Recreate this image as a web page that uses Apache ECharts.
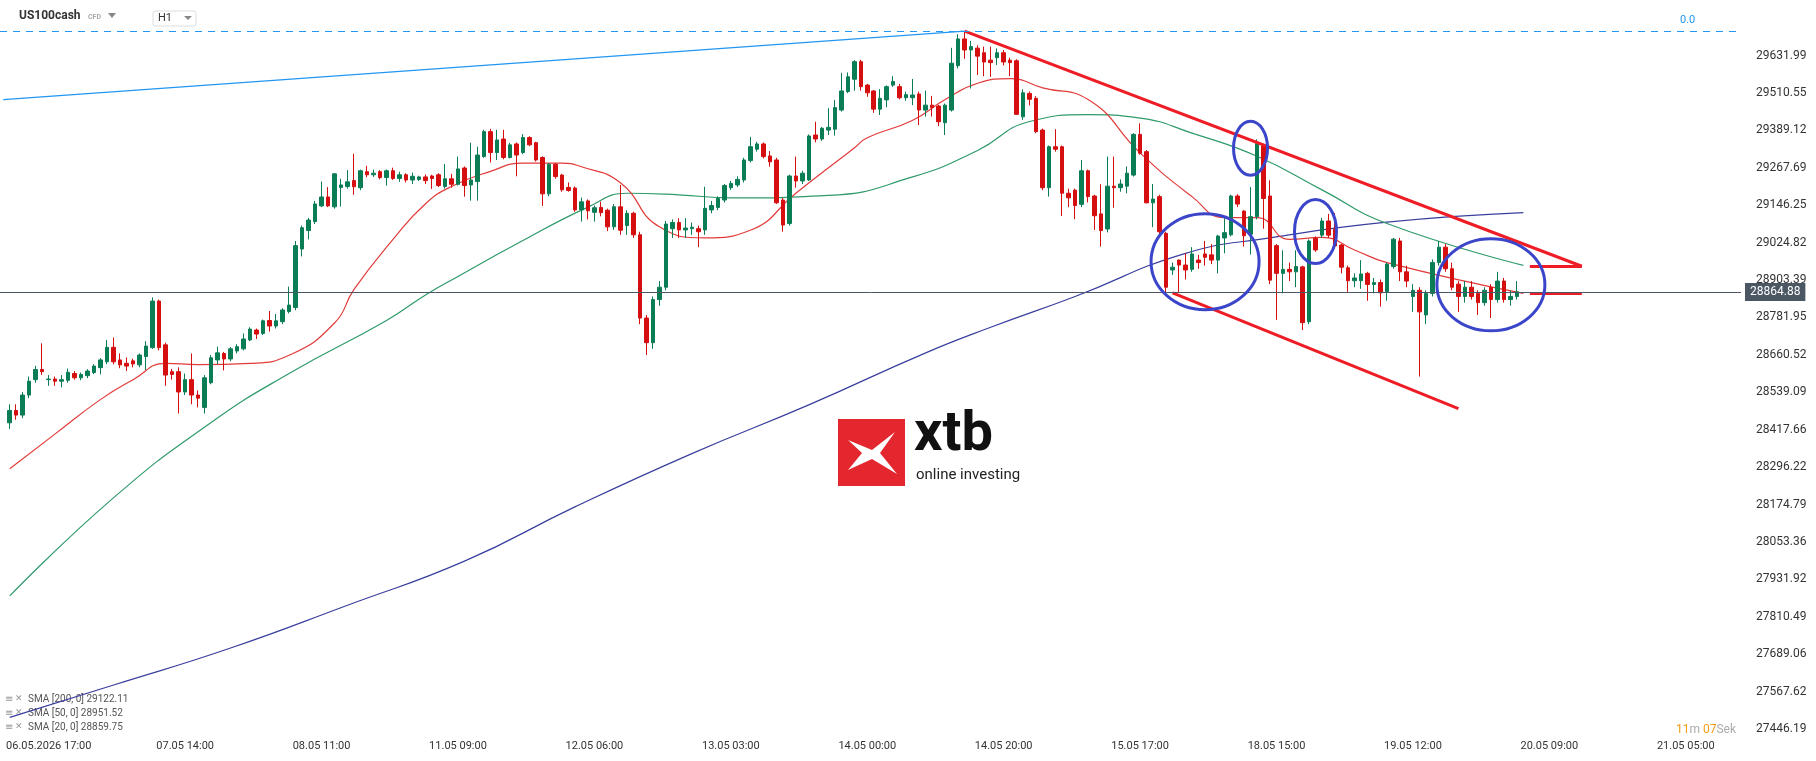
<!DOCTYPE html>
<html><head><meta charset="utf-8">
<script src="https://cdn.jsdelivr.net/npm/echarts@6/dist/echarts.min.js"></script>
<style>html,body{margin:0;padding:0;background:#fff}#c{width:1816px;height:761px}</style>
</head><body><div id="c"></div>
<script>
// ---- data ----
const candles = [
[28440,28480,28420,28500],[28480,28465,28450,28500],[28465,28530,28455,28540],[28530,28575,28520,28590],[28580,28613,28570,28625],
[28613,28606,28595,28698],[28580,28582,28560,28595],[28582,28575,28560,28590],[28575,28580,28555,28595],[28578,28604,28570,28616],
[28600,28586,28580,28608],[28586,28597,28578,28603],[28593,28608,28585,28614],[28603,28624,28598,28630],[28619,28644,28597,28650],
[28638,28685,28630,28709],[28685,28638,28630,28717],[28644,28628,28617,28665],[28633,28624,28608,28652],[28641,28631,28620,28648],
[28628,28660,28620,28665],[28655,28689,28611,28705],[28684,28835,28680,28847],[28835,28684,28675,28840],[28693,28595,28560,28700],
[28606,28597,28580,28615],[28606,28540,28470,28620],[28540,28580,28530,28600],[28580,28530,28500,28665],[28530,28520,28490,28545],
[28490,28586,28470,28595],[28570,28651,28565,28660],[28644,28667,28630,28687],[28665,28647,28610,28670],[28647,28680,28640,28686],
[28673,28687,28665,28695],[28680,28712,28675,28730],[28709,28744,28705,28750],[28741,28728,28712,28746],[28730,28771,28725,28775],
[28772,28754,28736,28803],[28754,28771,28746,28793],[28768,28806,28760,28812],[28801,28822,28795,28882],[28814,29015,28805,29030],
[29004,29073,28980,29080],[29064,29098,29035,29105],[29093,29150,29085,29160],[29144,29173,29140,29223],[29173,29144,29140,29205],
[29141,29248,29135,29250],[29204,29212,29142,29232],[29207,29222,29200,29260],[29226,29206,29180,29313],[29203,29258,29195,29262],
[29255,29245,29237,29274],[29245,29250,29238,29262],[29255,29236,29230,29260],[29236,29258,29210,29262],[29258,29233,29228,29268],
[29233,29245,29222,29255],[29245,29228,29220,29250],[29228,29240,29215,29252],
[29230,29238,29225,29242],[29238,29226,29215,29246],[29241,29233,29199,29245],[29245,29210,29205,29250],[29207,29232,29200,29280],
[29232,29214,29203,29248],[29214,29264,29210,29304],[29267,29210,29174,29272],[29212,29228,29161,29349],[29223,29309,29161,29336],
[29304,29385,29300,29391],[29385,29317,29285,29394],[29317,29358,29293,29391],[29361,29301,29295,29391],[29301,29342,29298,29348],
[29345,29309,29240,29350],[29317,29366,29312,29377],[29366,29342,29338,29370],[29349,29293,29288,29352],[29301,29183,29144,29305],
[29183,29279,29175,29283],[29279,29239,29232,29283],[29244,29196,29190,29248],[29204,29194,29190,29220],[29202,29131,29125,29207],
[29131,29157,29093,29171],[29160,29128,29100,29165],[29123,29138,29093,29145],[29139,29122,29110,29158],[29130,29076,29062,29135],
[29076,29141,29066,29150],[29141,29065,29050,29212],[29080,29120,29050,29130],[29120,29050,29040,29125],[29050,28780,28760,29060],
[28780,28700,28660,28790],[28700,28840,28680,28850],[28840,28880,28820,28900],[28880,29085,28870,29095],[29070,29090,29040,29100],
[29090,29066,29040,29104],[29066,29072,29040,29104],[29070,29075,29050,29090],[29070,29060,29010,29080],[29066,29136,29050,29206],
[29131,29145,29120,29160],[29139,29168,29130,29175],[29163,29210,29155,29215],[29203,29217,29195,29225],[29212,29230,29205,29240],
[29228,29293,29220,29300],[29291,29336,29285,29368],[29328,29345,29320,29352],[29345,29304,29298,29350],[29306,29287,29271,29322],
[29293,29154,29150,29300],[29163,29082,29060,29170],[29087,29241,29080,29245],[29241,29225,29203,29304],[29225,29250,29215,29258],
[29228,29371,29225,29376],[29374,29361,29350,29417],[29361,29396,29355,29400],[29390,29399,29374,29461],[29393,29463,29372,29488],
[29455,29517,29450,29576],[29515,29563,29510,29577],[29555,29612,29518,29617],[29612,29531,29518,29618],[29536,29511,29498,29540],
[29517,29458,29446,29520],[29458,29493,29439,29523],[29488,29531,29464,29535],[29536,29548,29530,29565],[29531,29495,29490,29540],
[29495,29505,29485,29515],[29495,29504,29471,29556],[29507,29455,29406,29515],[29455,29471,29434,29518],[29471,29463,29434,29501],
[29468,29417,29403,29472],[29414,29471,29374,29476],[29455,29607,29450,29657],[29599,29686,29590,29701],[29686,29650,29621,29709],
[29650,29661,29525,29679],[29656,29630,29569,29665],[29641,29611,29565,29661],[29617,29609,29563,29661],[29625,29641,29601,29655],
[29641,29611,29600,29650],[29617,29609,29565,29625],[29615,29441,29439,29620],[29433,29511,29423,29522],[29509,29490,29470,29515],
[29493,29385,29380,29500],[29390,29203,29195,29395],[29203,29336,29174,29340],[29336,29328,29320,29393],[29336,29185,29111,29340],
[29185,29170,29140,29200],[29195,29145,29101,29200],[29149,29258,29140,29293],[29258,29174,29155,29262],[29176,29112,29066,29180],
[29118,29064,29012,29214],[29069,29208,29058,29304],[29208,29203,29138,29304],[29203,29215,29190,29230],[29208,29250,29185,29272],
[29244,29376,29239,29380],[29376,29315,29310,29412],[29320,29154,29152,29325],[29154,29166,29075,29215],[29174,29060,29040,29180],
[29055,28880,28860,29060],[28936,28945,28920,28960],[28968,28952,28862,28970],[28952,28936,28905,28990],[28938,28988,28930,29010],
[28968,28960,28940,28985],[28988,28977,28950,29030],[28985,28968,28955,29020],[28968,29046,28925,29050],[29040,29057,28990,29104],
[29050,29176,29045,29180],[29176,29150,29140,29182],[29127,29047,29012,29130],[29052,29109,28986,29205],[29109,29347,29100,29360],
[29338,29168,29070,29345],[29176,28903,28890,29227],[29015,28925,28774,29020],[28925,28938,28860,29000],[28938,28930,28900,28960],
[28930,28947,28880,29000],[28946,28765,28741,28950],[28768,29030,28760,29035],[29039,29001,28995,29045],[29049,29095,29040,29105],
[29095,29049,29040,29118],[29068,29014,29005,29121],[29017,28945,28925,29020],[28943,28901,28865,28950],[28901,28910,28880,28925],
[28901,28923,28875,28968],[28925,28889,28836,28930],[28889,28895,28860,28910],[28895,28862,28817,28905],[28866,28955,28836,28960],
[28947,29036,28940,29040],[29030,28930,28900,29040],[28930,28900,28880,28950],
[28850,28870,28800,28890],[28870,28800,28590,28880],[28790,28860,28760,28870],[28860,28960,28850,28970],
[28960,29010,28950,29030],[29010,28940,28930,29020],[28940,28880,28870,28960],[28890,28850,28800,28900],[28850,28880,28830,28900],
[28880,28850,28840,28900],[28860,28830,28790,28870],[28830,28870,28820,28880],[28880,28840,28780,28890],[28840,28900,28830,28930],
[28900,28840,28830,28910],[28840,28850,28820,28870],[28850,28865,28840,28900]
];
const sma200 = [[1,27484],[17,27589],[35,27709],[53,27848],[71,27991],[88,28167],[106,28340],[124,28498],[142,28667],[152,28750],[165,28850],[182,28990],[195,29040],[213,29091],[234,29122]];
const sma50 = [[1,27878],[17,28197],[32,28441],[44,28600],[59,28772],[65,28855],[70,28915],[79,29020],[90,29140],[96,29185],[104,29180],[112,29170],[127,29178],[140,29238],[150,29324],[158,29418],[167,29440],[175,29429],[183,29380],[193,29305],[203,29196],[213,29087],[234,28951]];
const sma20 = [[1,28291],[8,28404],[15,28516],[20,28580],[25,28633],[30,28629],[38,28633],[44,28659],[51,28764],[54,28873],[60,29035],[65,29151],[69,29207],[75,29256],[80,29283],[86,29283],[89,29271],[95,29219],[101,29076],[108,29040],[115,29065],[122,29185],[131,29332],[133,29365],[140,29422],[145,29489],[150,29542],[155,29557],[160,29527],[167,29489],[175,29316],[183,29174],[188,29106],[193,29106],[198,29035],[203,29042],[208,29001],[213,28960],[234,28860]];
const xTickLabels = ['06.05.2026 17:00','07.05 14:00','08.05 11:00','11.05 09:00','12.05 06:00','13.05 03:00','14.05 00:00','14.05 20:00','15.05 17:00','18.05 15:00','19.05 12:00','20.05 09:00','21.05 05:00'];
const yTicks = [29631.99,29510.55,29389.12,29267.69,29146.25,29024.82,28903.39,28781.95,28660.52,28539.09,28417.66,28296.22,28174.79,28053.36,27931.92,27810.49,27689.06,27567.62,27446.19];
const lastPrice = 28864.88;
const fibLevel = 29711;
const legendRows = ['SMA [200, 0] 29122.11','SMA [50, 0] 28951.52','SMA [20, 0] 28859.75'];

const N = 268, FIRST = 7, STEP = 21;
const cats = Array.from({length:N},(_,i)=>String(i));
const candleData = [['-','-','-','-']].concat(candles);
const UP='#0b7d55', DOWN='#d50f0f', CH='#ee1c25';

const chart = echarts.init(document.getElementById('c'));
chart.setOption({
  animation:false,
  grid:{left:0,right:75,top:0,bottom:26},
  xAxis:{type:'category',data:cats,boundaryGap:true,
    axisLine:{show:false},axisTick:{show:false},splitLine:{show:false},
    axisLabel:{interval:(i)=> i>=FIRST && (i-FIRST)%STEP===0, formatter:(v,i)=>xTickLabels[(i-FIRST)/STEP]||'',
      color:'#333',fontSize:11,fontFamily:'Roboto',margin:6}},
  yAxis:{type:'value',position:'right',min:27426.7,max:29812.2,scale:true,
    axisLine:{show:false},axisTick:{show:false},splitLine:{show:false},
    axisLabel:{customValues:yTicks,formatter:v=>v.toFixed(2),color:'#333',fontSize:12,fontFamily:'Roboto',margin:15,showMinLabel:true,showMaxLabel:true}},
  series:[
    {type:'line',data:sma200,smooth:true,symbol:'none',lineStyle:{color:'#3a3f9e',width:1.2},z:2},
    {type:'line',data:sma50,smooth:true,symbol:'none',lineStyle:{color:'#2f9a6a',width:1.2},z:2},
    {type:'line',data:sma20,smooth:true,symbol:'none',lineStyle:{color:'#e23b3b',width:1.2},z:2},
    {type:'candlestick',data:candleData,barWidth:4,z:3,
      itemStyle:{color:UP,color0:DOWN,borderColor:UP,borderColor0:DOWN,borderWidth:1},
      markLine:{silent:true,symbol:'none',animation:false,data:[
        [{coord:[0,29489],lineStyle:{color:'#2196f3',width:1.3,type:'solid'}},{coord:[148,fibLevel]}],
        [{coord:[148,fibLevel],lineStyle:{color:CH,width:3,type:'solid'}},{coord:[243,28948]}],
        [{coord:[180,28862],lineStyle:{color:CH,width:3,type:'solid'}},{coord:[224,28486]}],
        [{coord:[235,28948],lineStyle:{color:CH,width:3,type:'solid'}},{coord:[243,28948]}],
        [{coord:[235,28862],lineStyle:{color:CH,width:3,type:'solid'}},{coord:[243,28862]}],
        {yAxis:fibLevel,lineStyle:{color:'#2196f3',width:1,type:[7,6]},label:{show:false}},
        {yAxis:lastPrice,lineStyle:{color:'#4b5763',width:1,type:'solid'},
          label:{show:true,position:'end',formatter:lastPrice.toFixed(2),color:'#fff',backgroundColor:'#4b5763',padding:[3,5],fontSize:12,fontFamily:'Roboto',distance:4}}
      ],label:{show:false}}}
  ]
});

function px(i,v){return chart.convertToPixel({xAxisIndex:0,yAxisIndex:0},[i,v]);}
const ellipses=[[184.6,28963,54,48],[191.9,29331,17,27],[202.4,29061,21,32],[228.7,28888,54,46]];
const g=[];
ellipses.forEach(e=>{const p=px(e[0],e[1]);g.push({type:'ellipse',shape:{cx:p[0],cy:p[1],rx:e[2],ry:e[3]},style:{fill:null,stroke:'#3b45c9',lineWidth:3},z:20});});
// header
g.push({type:'text',left:19,top:10,style:{text:'US100cash',font:'bold 12px Roboto',fill:'#333'}});
g.push({type:'text',left:88,top:14,style:{text:'CFD',font:'bold 7px Roboto',fill:'#aaa'}});
g.push({type:'polygon',shape:{points:[[108,13],[116,13],[112,18]]},style:{fill:'#888'}});
g.push({type:'rect',shape:{x:153,y:11,width:43,height:15,r:2},style:{fill:'#fff',stroke:'#ddd'}});
g.push({type:'text',left:158,top:13,style:{text:'H1',font:'11px Roboto',fill:'#333'}});
g.push({type:'polygon',shape:{points:[[184,16],[192,16],[188,20]]},style:{fill:'#888'}});
g.push({type:'text',left:1680,top:15,style:{text:'0.0',font:'11px Roboto',fill:'#2196f3'}});
// legend
legendRows.forEach((t,k)=>{const y=694+k*14;
  g.push({type:'text',left:5,top:y,style:{text:'≡',font:'10px DejaVu Sans',fill:'#999'}});
  g.push({type:'text',left:15,top:y,style:{text:'✕',font:'9px DejaVu Sans',fill:'#999'}});
  g.push({type:'text',left:28,top:y,style:{text:t,font:'10px Roboto',fill:'#555'}});});
// timer
g.push({type:'text',left:1676,top:724,style:{text:'{o|11}{g|m }{o|07}{g|Sek}',rich:{o:{fill:'#f39c12',font:'12px Roboto'},g:{fill:'#aaa',font:'12px Roboto'}}}});
// logo
g.push({type:'rect',shape:{x:838,y:419,width:67,height:67},style:{fill:'#e4262f'}});
g.push({type:'polygon',shape:{points:[[848,440],[872,450],[895,432],[880,453],[897,474],[872,459],[848,470],[862,453]]},style:{fill:'#fff'}});
g.push({type:'text',left:914,top:408,style:{text:'xtb',font:'bold 56px Roboto',fill:'#111'}});
g.push({type:'text',left:916,top:468,style:{text:'online investing',font:'15px Roboto',fill:'#222'}});
chart.setOption({graphic:g});
</script></body></html>
